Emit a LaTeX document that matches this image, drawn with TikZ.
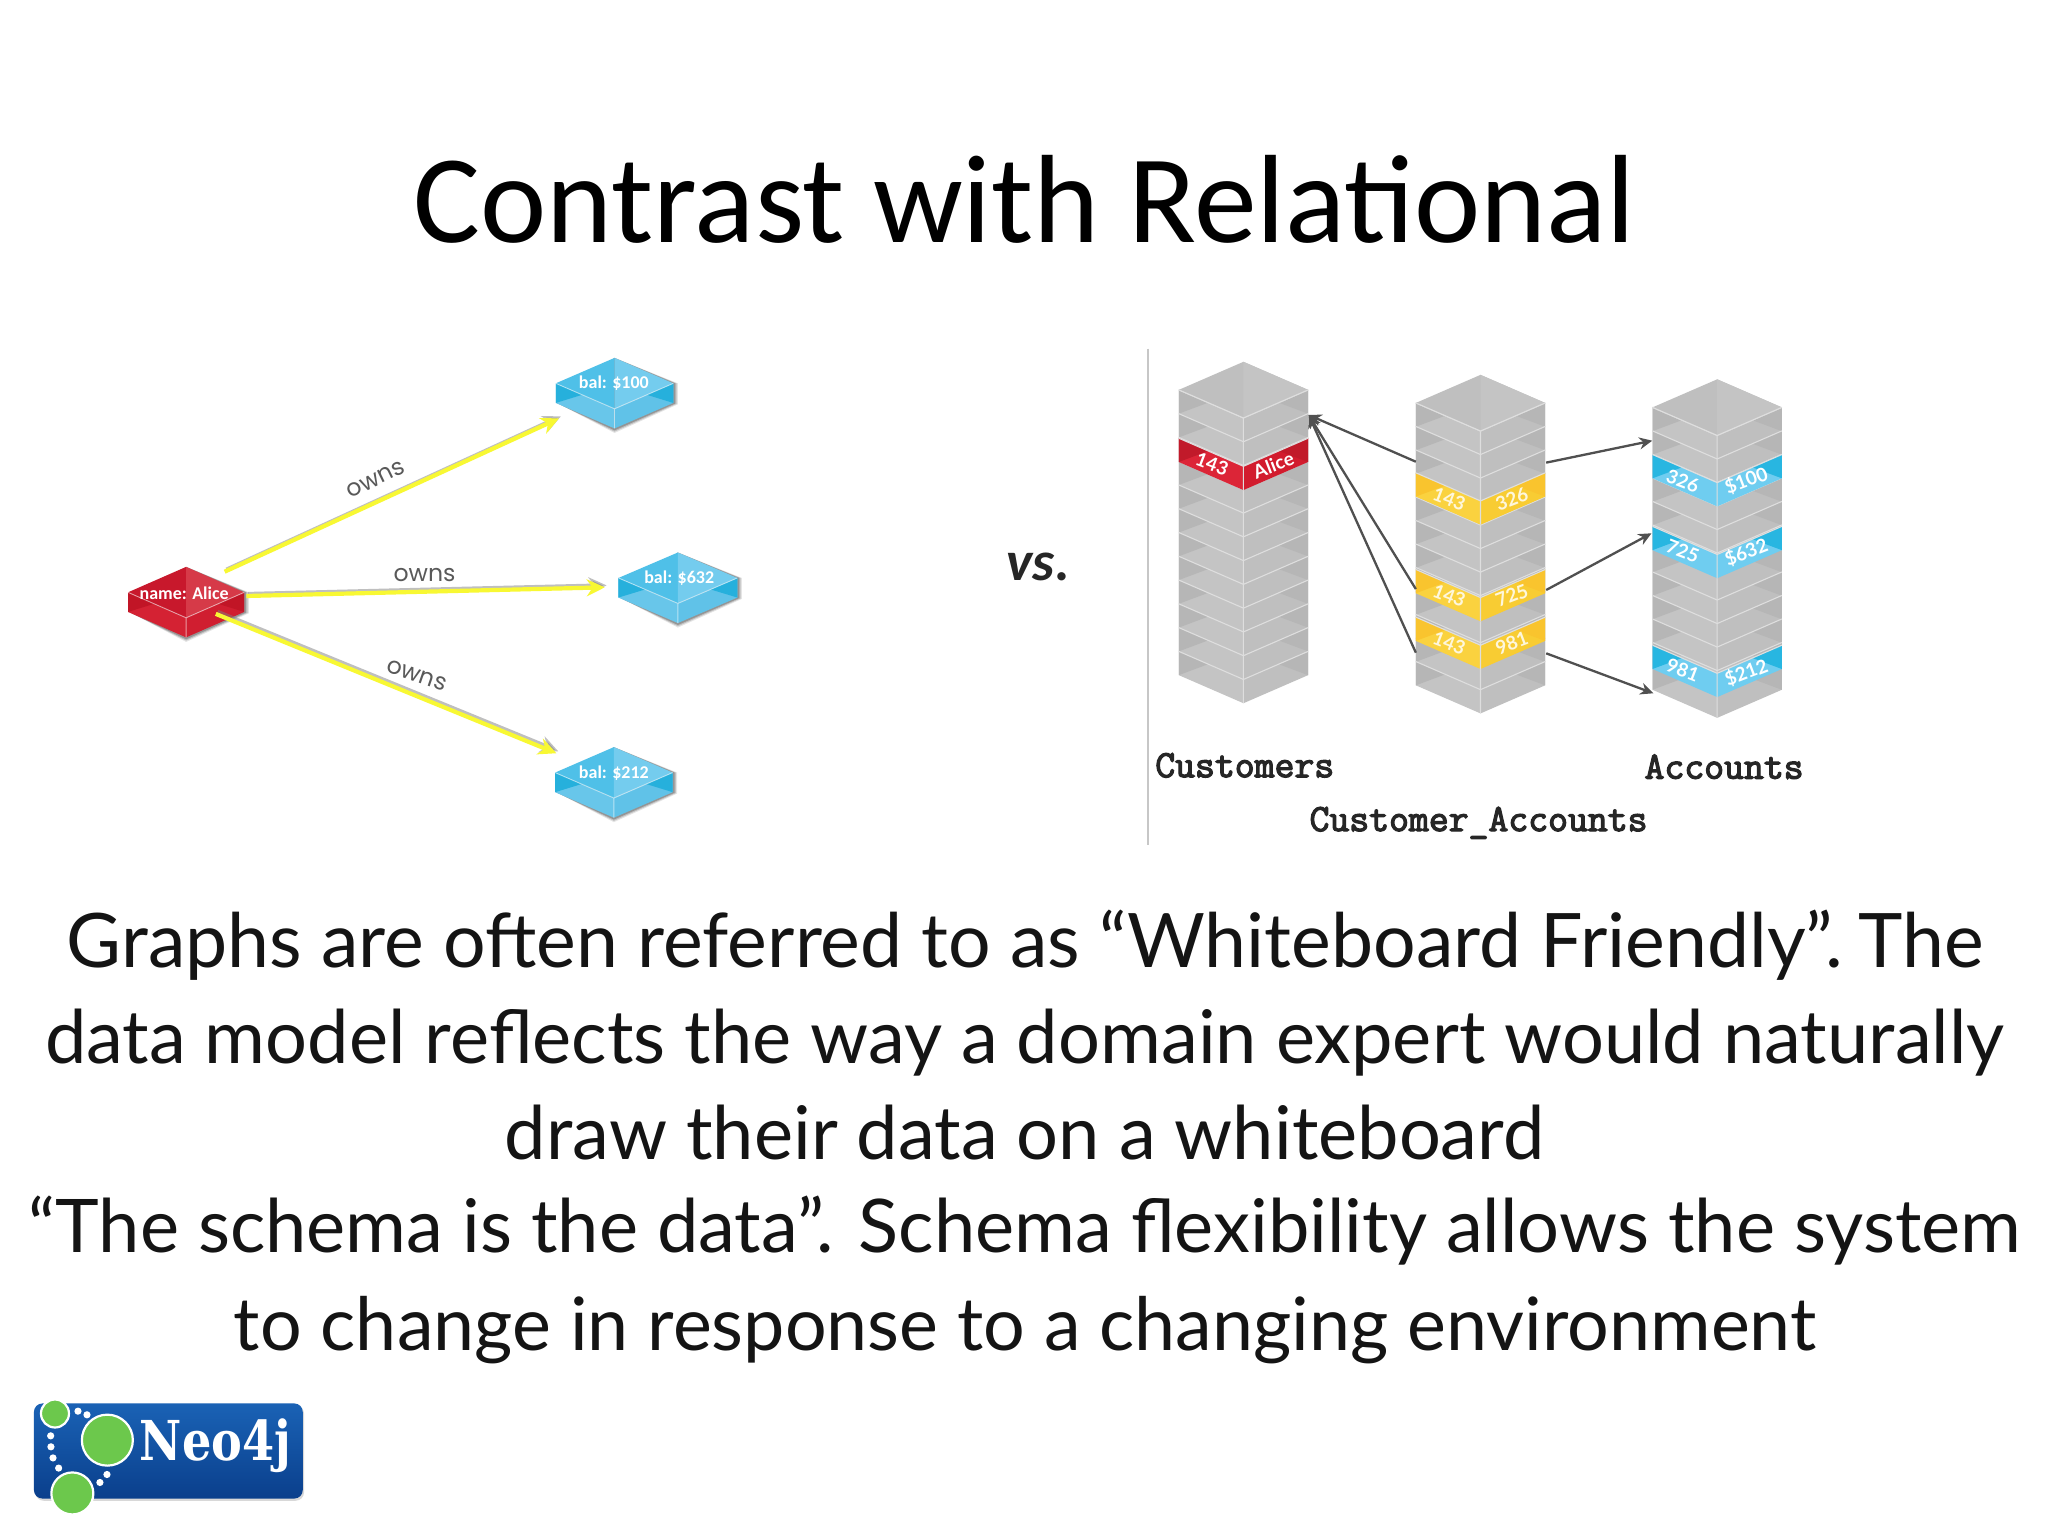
\documentclass[tikz,border=0pt]{standalone}
\usepackage{fontspec}
\usetikzlibrary{arrows.meta}
\setmainfont{Lato}
\newfontfamily\titlef{Carlito}
\newfontfamily\slabf[FakeStretch=0.84]{DejaVu Serif}
\newfontfamily\geof{Poppins}
\newfontfamily\tablef[FakeBold=3.2]{Latin Modern Mono}
\definecolor{grayA}{HTML}{C4C4C4}
\definecolor{grayB}{HTML}{BFBFBF}
\definecolor{grayT}{HTML}{B6B6B6}
\definecolor{graySeam}{HTML}{DEDEDE}
\definecolor{redA}{HTML}{DC2537}
\definecolor{redB}{HTML}{D21C2E}
\definecolor{yelA}{HTML}{FAD23F}
\definecolor{yelB}{HTML}{F8CC33}
\definecolor{bluA}{HTML}{6FCDF0}
\definecolor{bluB}{HTML}{28B6E1}
\definecolor{bluTL}{HTML}{4FC0E8}
\definecolor{bluTR}{HTML}{74CCEE}
\definecolor{bluFL}{HTML}{68C6EA}
\definecolor{bluFR}{HTML}{60C2E8}
\definecolor{bluTri}{HTML}{26B0DC}
\definecolor{redTL}{HTML}{C8182C}
\definecolor{redTR}{HTML}{D63A48}
\definecolor{redFL}{HTML}{D42233}
\definecolor{redFR}{HTML}{D01E30}
\definecolor{redTri}{HTML}{C11526}
\definecolor{arrowG}{HTML}{505050}
\definecolor{arrowY}{HTML}{F8F833}
\definecolor{logoT}{HTML}{1A62B5}
\definecolor{logoB}{HTML}{0A3F8C}
\definecolor{logoG}{HTML}{6CC84C}
\tikzset{
  bodyline/.style={anchor=base,inner sep=0pt,text=black!92},
  owns/.style={font=\geof\fontsize{11.8}{12}\selectfont,text=black!65,inner sep=0pt},
  cubelabel/.style={font=\titlef\bfseries\fontsize{9}{10}\selectfont,text=white,inner sep=0pt},
  tablelabel/.style={font=\tablef\fontsize{19.3}{20}\selectfont,text=black!85,inner sep=0pt},
  bandlabel/.style={font=\bfseries\fontsize{9.5}{10}\selectfont,text=white,inner sep=0pt},
  palelabel/.style={bandlabel,text=white!82!yelA},
  graphedge/.style={arrowY,line width=2.1pt,-{Stealth[length=9pt,width=8.5pt]}},
  graphshadow/.style={black!50,opacity=.5,line width=2.1pt,-{Stealth[length=9pt,width=8.5pt]}},
  fkedge/.style={arrowG,line width=1.15pt,-{Stealth[length=6.5pt,width=6pt]}},
  logodot/.style={circle,fill=white,minimum size=3.6pt,inner sep=0pt},
  logocircle/.style={circle,fill=logoG,draw=white,line width=1.1pt,inner sep=0pt},
}
% cx, apex y, half width, half height, thickness, palette prefix
\newcommand{\gcube}[6]{%
  \begin{scope}[shift={(#1,#2)}]
    \foreach \off/\op in {3.5/.10,2.5/.16,1.5/.22}{
      \fill[black,opacity=\op] (-#3+\off*.3,#4+#5) -- (0,2*#4+#5+\off) -- (#3+\off,#4+#5+\off*.3) -- (#3+\off,#4) -- (0,0) -- cycle;
    }
    \fill[#6FL] (-#3,#4) -- (0,2*#4) -- (0,2*#4+#5) -- (-#3,#4+#5) -- cycle;
    \fill[#6FR] (#3,#4) -- (0,2*#4) -- (0,2*#4+#5) -- (#3,#4+#5) -- cycle;
    \fill[#6Tri] (-#3,#4) -- (-#3*.55,#4*1.45) -- (-#3,#4+#5) -- cycle;
    \fill[#6Tri] (#3,#4) -- (#3*.55,#4*1.45) -- (#3,#4+#5) -- cycle;
    \fill[#6TL] (0,0) -- (0,2*#4) -- (-#3,#4) -- cycle;
    \fill[#6TR] (0,0) -- (#3,#4) -- (0,2*#4) -- cycle;
    \draw[white,opacity=.55,line width=.45pt] (-#3,#4) -- (0,2*#4) -- (#3,#4) (0,2*#4) -- (0,2*#4+#5);
  \end{scope}}
% cx, side y, left colour, right colour, triangle colour
\newcommand{\gband}[5]{%
  \begin{scope}[shift={(#1,#2)}]
    \fill[#3] (-49.5,0) -- (0,21.5) -- (0,39.7) -- (-49.5,18.2) -- cycle;
    \fill[#4] (49.5,0) -- (0,21.5) -- (0,39.7) -- (49.5,18.2) -- cycle;
    \fill[#5] (-49.5,0) -- (-27,9.8) -- (-49.5,18.2) -- cycle;
    \fill[#5] (49.5,0) -- (27,9.8) -- (49.5,18.2) -- cycle;
    \draw[graySeam,line width=.55pt] (-49.5,0) -- (0,21.5) -- (49.5,0) (0,21.5) -- (0,39.7);
  \end{scope}}
% cx, apex y, layer step
\newcommand{\gstack}[3]{%
  \foreach \lay in {0,...,11} {%
    \pgfmathsetmacro{\sidey}{#2+21.5+\lay*#3}%
    \gband{#1}{\sidey}{grayA}{grayB}{grayT}%
  }%
  \begin{scope}[shift={(#1,#2)}]
    \fill[grayB] (0,0) -- (49.5,21.5) -- (0,43) -- (-49.5,21.5) -- cycle;
    \fill[grayA] (0,0) -- (49.5,21.5) -- (0,43) -- cycle;
    \draw[graySeam,line width=.55pt] (-49.5,21.5) -- (0,43) -- (49.5,21.5);
  \end{scope}}
\begin{document}
\begin{tikzpicture}[x=0.653061pt,y=-0.653061pt]
\useasboundingbox (0,0) rectangle (1568,1176);
\fill[white] (0,0) rectangle (1568,1176);

% title
\node[font=\titlef\fontsize{62.8}{64}\selectfont,inner sep=0pt,anchor=base,text=black] (title) at (784.5,186) {Contrast with Relational};

% graph model
\gcube{142.5}{434}{44.5}{19.5}{15}{red}
\gcube{470.5}{274}{45}{19.5}{15}{blu}
\gcube{519}{423}{45.5}{19.5}{15}{blu}
\gcube{470}{572}{45}{19.5}{15}{blu}
\node[cubelabel] (alice) at (141,454) {name: Alice};
\node[cubelabel] (bal100) at (470,293) {bal: \$100};
\node[cubelabel] (bal632) at (520,443) {bal: \$632};
\node[cubelabel] (bal212) at (470,592) {bal: \$212};

\coordinate (aliceA) at (172,437.7);
\coordinate (aliceB) at (188.6,456.3);
\coordinate (aliceC) at (165.2,470);
\coordinate (toA) at (428,320.3);
\coordinate (toB) at (463,449.7);
\coordinate (toC) at (426,576.7);
\foreach \a/\b in {aliceA/toA,aliceB/toB,aliceC/toC}{
  \draw[graphshadow,transform canvas={shift={(.9pt,1pt)}}] (\a) -- (\b);
  \draw[graphedge] (\a) -- (\b);
}
\node[owns,rotate=26] (ownsA) at (287.5,367) {owns};
\node[owns] (ownsB) at (325,440) {owns};
\node[owns,rotate=-19] (ownsC) at (319,517) {owns};

% vs
\node[font=\titlef\bfseries\itshape\fontsize{28}{28}\selectfont,inner sep=0pt,text=black!85] (vs) at (795,434) {vs.};

% separator
\coordinate (sepT) at (879,267);
\coordinate (sepB) at (879,647);
\draw[black!22,line width=.7pt] (sepT) -- (sepB);

% relational stacks
\gstack{952}{277}{18.2}
\gstack{1133.5}{287}{18}
\gstack{1314.7}{290.4}{18}

\gband{952}{335.5}{redA}{redB}{redB!92!black}
\node[bandlabel,rotate=-21] (r1) at (928,355.5) {143};
\node[bandlabel,rotate=21] (r2) at (975,356) {Alice};

\gband{1133.5}{362}{yelA}{yelB}{yelB!90!orange}
\node[palelabel,rotate=-21] (y1a) at (1109.6,382) {143};
\node[palelabel,rotate=21] (y1b) at (1157.4,382) {326};
\gband{1133.5}{436}{yelA}{yelB}{yelB!90!orange}
\node[palelabel,rotate=-21] (y2a) at (1109.6,456) {143};
\node[palelabel,rotate=21] (y2b) at (1157.4,456) {725};
\gband{1133.5}{472.5}{yelA}{yelB}{yelB!90!orange}
\node[palelabel,rotate=-21] (y3a) at (1109.6,492.5) {143};
\node[palelabel,rotate=21] (y3b) at (1157.4,492.5) {981};

\gband{1314.7}{348}{bluA}{bluA}{bluB}
\node[bandlabel,rotate=-21] (b1a) at (1288.4,368) {326};
\node[bandlabel,rotate=21] (b1b) at (1337,368) {\$100};
\gband{1314.7}{403}{bluA}{bluA}{bluB}
\node[bandlabel,rotate=-21] (b2a) at (1288.4,422) {725};
\node[bandlabel,rotate=21] (b2b) at (1337,423) {\$632};
\gband{1314.7}{494}{bluA}{bluA}{bluB}
\node[bandlabel,rotate=-21] (b3a) at (1288.4,513) {981};
\node[bandlabel,rotate=21] (b3b) at (1337,515) {\$212};

\coordinate (custIn) at (1001.9,317.7);
\coordinate (caL1) at (1084,353.5);
\coordinate (caL2) at (1084,451);
\coordinate (caL3) at (1084,499.7);
\coordinate (caR1) at (1183.8,354.2);
\coordinate (caR2) at (1183.8,451.7);
\coordinate (caR3) at (1183.8,500.2);
\coordinate (acc1) at (1265,337.4);
\coordinate (acc2) at (1264.4,408.3);
\coordinate (acc3) at (1265.8,530.8);
\draw[fkedge] (caL1) -- (custIn);
\draw[fkedge] (caL2) -- (custIn);
\draw[fkedge] (caL3) -- (custIn);
\draw[fkedge] (caR1) -- (acc1);
\draw[fkedge] (caR2) -- (acc2);
\draw[fkedge] (caR3) -- (acc3);

\node[tablelabel] (customers) at (953,586) {Customers};
\node[tablelabel] (accounts) at (1320,587) {Accounts};
\node[tablelabel] (custacc) at (1132,630) {Customer\_Accounts};

% body
\node[bodyline,font=\fontsize{37.6}{38}\selectfont] (l1) at (785,741) {Graphs are often referred to as “Whiteboard Friendly”.\hspace{-5pt} The};
\node[bodyline,font=\fontsize{37}{38}\selectfont] (l2) at (784.5,814) {data model reflects the way a domain expert would naturally};
\node[bodyline,font=\fontsize{37}{38}\selectfont] (l3) at (784.5,888) {draw their data on a whiteboard};
\node[bodyline,font=\fontsize{37}{38}\selectfont] (l4) at (784.5,959) {“The schema is the data”. Schema flexibility allows the system};
\node[bodyline,font=\fontsize{36.8}{38}\selectfont] (l5) at (785,1034) {to change in response to a changing environment};

% logo
\fill[black!30,opacity=.5,rounded corners=4.2pt] (27,1076) rectangle (232.8,1149);
\shade[top color=logoT,bottom color=logoB,rounded corners=4.2pt] (26,1074.5) rectangle (231.8,1147.3);
\node[font=\slabf\bfseries\fontsize{27.5}{28}\selectfont,text=white,inner sep=0pt,anchor=base] (neo) at (165,1118) {Neo4j};
\node[logocircle,minimum size=14pt] (n1) at (42.1,1082.2) {};
\node[logocircle,minimum size=25.5pt] (n2) at (82.2,1102.6) {};
\node[logocircle,minimum size=21pt] (n3) at (55.4,1143.4) {};
\foreach \px/\py [count=\k] in {59.7/1080.4,66.6/1083.2,38.8/1099.3,39/1107.7,40.6/1116.2,44.9/1124,76.5/1135,81.9/1128.9}{
  \node[logodot] (d\k) at (\px,\py) {};
}
\end{tikzpicture}
\end{document}
